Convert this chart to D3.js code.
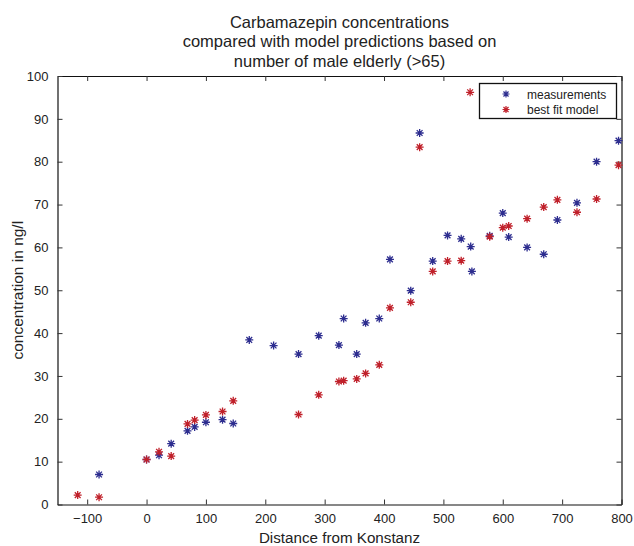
<!DOCTYPE html>
<html>
<head>
<meta charset="utf-8">
<script src="https://cdn.jsdelivr.net/npm/d3@7"></script>
<style>
  html, body { margin: 0; padding: 0; background: #fff; }
  text { font-family: "Liberation Sans", Arial, Helvetica, sans-serif; fill: #222; }
</style>
</head>
<body>
<svg id="chart" width="634" height="546"></svg>
<script>
// ---- data ----
const titleLines = ["Carbamazepin concentrations", "compared with model predictions based on", "number of male elderly (>65)"];
const xLabel = "Distance from Konstanz";
const yLabel = "concentration in ng/l";
const seriesNames = ["measurements", "best fit model"];

const measDistance = [-80, 0, 21, 41.5, 69, 81, 100, 128, 146, 173, 214, 256, 290, 324, 332, 354, 369, 392, 410, 445, 460, 482, 507, 530, 546, 548, 578, 600, 610, 641, 669, 692, 725, 758, 795];
const measValue    = [7.0, 10.5, 11.5, 14.2, 17.2, 18.1, 19.2, 19.8, 18.9, 38.4, 37.1, 35.1, 39.4, 37.2, 43.4, 35.1, 42.4, 43.4, 57.2, 49.9, 86.7, 56.8, 62.8, 62.0, 60.2, 54.4, 62.7, 68.0, 62.4, 60.0, 58.4, 66.4, 70.4, 80.0, 84.9];

const modelDistance = [-116, -80, 0, 21, 41.5, 69, 81, 100, 128, 146, 256, 290, 324, 332, 354, 369, 392, 410, 445, 460, 482, 507, 530, 545, 578, 600, 610, 641, 669, 692, 725, 758, 795];
const modelValue    = [2.2, 1.7, 10.5, 12.3, 11.3, 18.8, 19.7, 20.9, 21.7, 24.2, 21.0, 25.6, 28.7, 28.9, 29.3, 30.6, 32.6, 45.9, 47.2, 83.4, 54.4, 56.8, 56.9, 96.2, 62.5, 64.6, 65.0, 66.7, 69.4, 71.1, 68.2, 71.3, 79.2];

const xTicks = [-100, 0, 100, 200, 300, 400, 500, 600, 700, 800];
const yTicks = [0, 10, 20, 30, 40, 50, 60, 70, 80, 90, 100];

// ---- layout ----
const svg = d3.select("#chart");
const L = 57.5, R = 621.5, T = 76, B = 504.5;
const colors = ["#2d2d8f", "#c0202a"];

const x = d3.scaleLinear().domain([-150, 800]).range([L, R]);
const y = d3.scaleLinear().domain([0, 100]).range([B, T]);

const fmt = d => (d < 0 ? "\u2212" + Math.abs(d) : String(d));

// axes: bottom, left with labels; top, right without; ticks inward
const tickLen = 5;
svg.append("g").attr("transform", `translate(0,${B})`)
  .call(d3.axisBottom(x).tickValues(xTicks).tickSizeInner(-tickLen).tickSizeOuter(0).tickPadding(9).tickFormat(fmt))
  .call(g => g.selectAll("text").attr("font-size", 13).style("font-family", "Liberation Sans, Arial, sans-serif").attr("fill", "#222"));
svg.append("g").attr("transform", `translate(0,${T})`)
  .call(d3.axisTop(x).tickValues(xTicks).tickSizeInner(-tickLen).tickSizeOuter(0).tickFormat(""));
svg.append("g").attr("transform", `translate(${L},0)`)
  .call(d3.axisLeft(y).tickValues(yTicks).tickSizeInner(-tickLen).tickSizeOuter(0).tickPadding(9))
  .call(g => g.selectAll("text").attr("font-size", 13).style("font-family", "Liberation Sans, Arial, sans-serif").attr("fill", "#222"));
svg.append("g").attr("transform", `translate(${R},0)`)
  .call(d3.axisRight(y).tickValues(yTicks).tickSizeInner(-tickLen).tickSizeOuter(0).tickFormat(""));
svg.selectAll(".domain").attr("stroke", "#111").attr("stroke-width", 1.2);
svg.selectAll(".tick line").attr("stroke", "#333");

// asterisk marker
function asterisk(r) {
  const d = r * 0.72;
  return `M0,${-r}V${r}M${-r},0H${r}M${-d},${-d}L${d},${d}M${-d},${d}L${d},${-d}`;
}
const plot = svg.append("g");
function drawSeries(xs, ys, color) {
  plot.selectAll(null).data(xs.map((v, i) => [v, ys[i]])).enter()
    .append("path")
    .attr("d", asterisk(4))
    .attr("transform", d => `translate(${x(d[0])},${y(d[1])})`)
    .attr("fill", "none").attr("stroke", color).attr("stroke-width", 1.3);
}
drawSeries(measDistance, measValue, colors[0]);
drawSeries(modelDistance, modelValue, colors[1]);

// title
const title = svg.append("text").attr("text-anchor", "middle").attr("font-size", 16.5);
titleLines.forEach((t, i) => title.append("tspan").attr("x", (L + R) / 2).attr("y", 27.5 + i * 19.5).text(t));

// axis labels
svg.append("text").attr("x", (L + R) / 2).attr("y", 543).attr("text-anchor", "middle").attr("font-size", 15.2).text(xLabel);
svg.append("text").attr("transform", `translate(23,${(T + B) / 2}) rotate(-90)`).attr("text-anchor", "middle").attr("font-size", 15.5).text(yLabel);

// legend
const lg = svg.append("g");
lg.append("rect").attr("x", 479.5).attr("y", 83.5).attr("width", 137).attr("height", 35)
  .attr("fill", "#fff").attr("stroke", "#111").attr("stroke-width", 1.3);
seriesNames.forEach((n, i) => {
  const yy = 94 + i * 15.5;
  lg.append("path").attr("d", asterisk(3.5)).attr("transform", `translate(506,${yy})`)
    .attr("fill", "none").attr("stroke", colors[i]).attr("stroke-width", 1.2);
  lg.append("text").attr("x", 527).attr("y", yy + 4.5).attr("font-size", 12).text(n);
});
</script>
</body>
</html>
